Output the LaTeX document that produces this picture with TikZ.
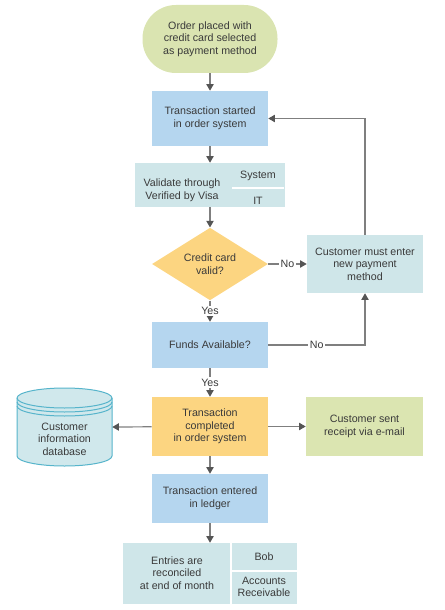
\documentclass[tikz,border=0pt]{standalone}
\usepackage{fontspec}
\setmainfont{Liberation Sans}
\usetikzlibrary{shapes.geometric,arrows.meta}
\definecolor{txt}{HTML}{3A3A3A}
\definecolor{termc}{HTML}{DAE4B1}
\definecolor{bluec}{HTML}{B5D6EF}
\definecolor{tealc}{HTML}{CFE6E9}
\definecolor{orangec}{HTML}{FCD581}
\definecolor{greenc}{HTML}{DBE5B1}
\definecolor{cylline}{HTML}{56B4CB}
\definecolor{cylfill}{HTML}{D0E8EC}
\definecolor{linec}{HTML}{7F7F7F}
\definecolor{tipc}{HTML}{555555}
\begin{document}
\begin{tikzpicture}[x=0.75pt,y=-0.75pt,
  every node/.style={font=\fontsize{8}{9.4}\selectfont, text=txt, align=center, inner sep=0pt},
  boxs/.style={rectangle, draw=none, minimum width=87pt},
  term/.style={rectangle, rounded corners=25pt, fill=termc, minimum width=101.25pt, minimum height=51pt},
  bluebox/.style={boxs, fill=bluec},
  tealbox/.style={boxs, fill=tealc},
  orangebox/.style={boxs, fill=orangec},
  greenbox/.style={boxs, fill=greenc},
  arr/.style={draw=linec, line width=0.9pt, -{Triangle[width=5.5pt,length=5pt,color=tipc]}},
  lbl/.style={fill=white, inner sep=1pt},
  divider/.style={draw=white, line width=0.8pt}
]
\useasboundingbox (0,0) rectangle (445,610);

% nodes
\node[term] (start) at (210,39) {Order placed with\\credit card selected\\as payment method};
\node[bluebox, minimum height=41.25pt] (ts) at (210,118.5) {Transaction started\\in order system};

\node[tealbox, minimum width=112.5pt, minimum height=33pt] (val) at (210,185) {};
\node (valt) at (182,190) {Validate through\\Verified by Visa};
\node (sys) at (258,176) {System};
\node (it) at (258,201) {IT};
\draw[divider] (232,188) -- (284,188);

\node[diamond, fill=orangec, minimum width=87pt, minimum height=45pt] (cc) at (210,264) {Credit card\\valid?};
\node[tealbox, minimum height=43.5pt] (cm) at (365,264) {Customer must enter\\new payment\\method};
\node[bluebox, minimum height=34.5pt] (fa) at (210,345) {Funds Available?};
\node[orangebox, minimum height=44.25pt] (tc) at (210,426.5) {Transaction\\completed\\in order system};
\node[greenbox, minimum width=87.75pt, minimum height=44.25pt] (cs) at (364.5,426.5) {Customer sent\\receipt via e-mail};

% database cylinder
\node[minimum width=71.25pt, minimum height=61.5pt] (db) at (64.5,427) {};
\filldraw[fill=cylfill, draw=cylline, line width=0.75pt]
  (17,398) -- (17,456) arc[start angle=180, end angle=0, x radius=47.5, y radius=10]
  -- (112,398) arc[start angle=0, end angle=-180, x radius=47.5, y radius=10] -- cycle;
\draw[cylline, line width=0.75pt] (17,398) arc[start angle=180, end angle=0, x radius=47.5, y radius=10];
\draw[cylline, line width=0.75pt] (17,402) arc[start angle=180, end angle=0, x radius=47.5, y radius=10];
\draw[cylline, line width=0.75pt] (17,406) arc[start angle=180, end angle=0, x radius=47.5, y radius=10];
\node (dbt) at (64.5,439) {Customer\\information\\database};

\node[bluebox, minimum height=36.75pt] (te) at (210,498.5) {Transaction entered\\in ledger};

\node[tealbox, minimum width=130.5pt, minimum height=45.75pt] (en) at (210,573.5) {};
\node (ent) at (177,573) {Entries are\\reconciled\\at end of month};
\node (bob) at (264,557) {Bob};
\node (ar) at (264,587) {Accounts\\Receivable};
\draw[divider] (231,543) -- (231,604);
\draw[divider] (231,571) -- (297,571);

% connectors
\draw[arr] (start) -- (ts);
\draw[arr] (ts) -- (val);
\draw[arr] (val) -- (cc);
\draw[arr] (cc) -- node[lbl]{Yes} (fa);
\draw[arr] (cc) -- node[lbl]{No} (cm);
\draw[arr] (cm.north) |- (ts.east);
\draw[arr] (fa.east) -| node[lbl, pos=0.25]{No} (cm.south);
\draw[arr] (fa) -- node[lbl]{Yes} (tc);
\draw[arr] (tc) -- (db.east);
\draw[arr] (tc) -- (cs);
\draw[arr] (tc) -- (te);
\draw[arr] (te) -- (en);
\end{tikzpicture}
\end{document}
